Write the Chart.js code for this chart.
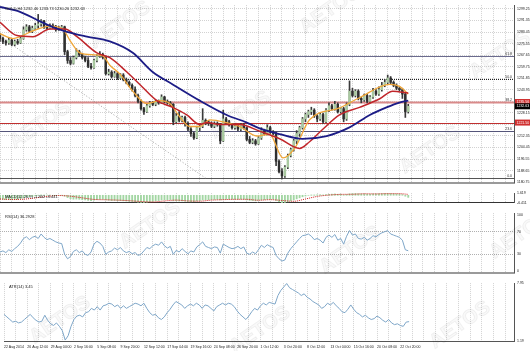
<!DOCTYPE html>
<html>
<head>
<meta charset="utf-8">
<script src="https://cdn.jsdelivr.net/npm/chart.js@4.4.0/dist/chart.umd.min.js"></script>
<style>
    html, body { margin: 0; padding: 0; background: #fff; }
    #wrap { position: relative; width: 530px; height: 351px; overflow: hidden; background: #fff; }
    .pane { position: absolute; left: 0; width: 530px; }
</style>
</head>
<body>
<div id="wrap">
    <div class="pane" style="top:0"><canvas id="mainChart" width="530" height="188"></canvas></div>
    <div class="pane" style="top:188px"><canvas id="macdChart" width="530" height="20"></canvas></div>
    <div class="pane" style="top:208px"><canvas id="rsiChart" width="530" height="70"></canvas></div>
    <div class="pane" style="top:278px"><canvas id="atrChart" width="530" height="73"></canvas></div>
</div>
<script>
// Time axis labels, one every 8 candles (each candle here = 2 H4 bars)
const timeLabels = ['22 Aug 2014', '26 Aug 12:00', '29 Aug 04:00', '2 Sep 16:00', '5 Sep 08:00', '9 Sep 20:00',
    '12 Sep 12:00', '17 Sep 04:00', '19 Sep 16:00', '24 Sep 08:00', '26 Sep 20:00', '1 Oct 12:00',
    '3 Oct 20:00', '8 Oct 12:00', '13 Oct 04:00', '15 Oct 16:00', '20 Oct 08:00', '22 Oct 20:00'];

// Price axis tick labels
const priceTicks = [1180.75, 1188.65, 1196.55, 1204.45, 1212.35, 1220.25, 1228.15, 1236.05,
    1243.95, 1251.85, 1259.75, 1267.65, 1275.55, 1283.45, 1291.35, 1299.25];

// candles: [open, high, low, close]
const ohlc = [
    [1281,1282.5,1277,1279],[1279,1280,1275.5,1277],[1277,1278,1274.5,1276],[1276,1279.5,1275,1278],
    [1278,1279,1274,1275],[1275,1278,1274,1277],[1277,1278.5,1275,1276],[1276,1280.5,1275.5,1279],
    [1279,1287,1278.5,1285],[1285,1288.5,1284,1287],[1287,1288,1283,1284],[1284,1287.5,1283,1286],
    [1286,1289.5,1285,1288],[1288,1295.5,1286,1289],[1289,1292,1287.5,1291],[1291,1291.5,1286,1287],
    [1287,1288,1285,1286],[1286,1289,1285.5,1288],[1288,1289,1286,1287],[1287,1288,1284,1285],
    [1285,1287.5,1284.5,1286],[1286,1288,1285.5,1287],[1287,1287.5,1268,1270],[1270,1271,1262,1264],
    [1264,1266,1261,1262],[1262,1267,1261.5,1266],[1266,1272,1265,1270],[1270,1271,1267,1268],
    [1268,1269,1265,1266],[1266,1267,1263,1264],[1264,1266,1259,1260],[1260,1262,1258,1259],
    [1259,1265,1258.5,1264],[1264,1268,1263,1267],[1267,1270,1266,1268],[1268,1269,1265,1266],
    [1266,1266.5,1254,1255],[1255,1258,1254,1256],[1256,1257,1252,1253],[1253,1256.5,1252.5,1255],
    [1255,1256,1251,1252],[1252,1255,1251.5,1254],[1254,1255,1250,1251],[1251,1252,1248,1249],
    [1249,1250,1246,1247],[1247,1248,1243,1244],[1244,1246,1239,1240],[1240,1241,1235,1236],
    [1236,1237,1230,1231],[1231,1232,1227,1229],[1229,1234,1228.5,1233],[1233,1236,1232,1235],
    [1235,1236,1233,1234],[1234,1237,1233,1236],[1236,1237,1234,1235],[1235,1240.5,1234.5,1239],
    [1239,1239.5,1235,1236],[1236,1237,1234,1235],[1235,1236,1233,1234],[1234,1234.5,1220,1222],
    [1222,1228,1221,1226],[1226,1229,1222,1223],[1223,1226,1222,1225],[1225,1226,1219,1221],
    [1221,1222,1216,1217],[1217,1218,1212,1214],[1214,1215,1210,1211],[1211,1219,1210.5,1218],
    [1218,1220.5,1216,1219],[1219,1231,1218,1223],[1223,1224,1220,1222],[1222,1223,1219.5,1221],
    [1221,1222,1218,1219],[1219,1222,1218,1221],[1221,1222,1219,1220],[1220,1221,1207,1209],
    [1209,1230,1208.5,1224],[1224,1225,1221,1222],[1222,1223,1219,1220],[1220,1221,1217,1218],
    [1218,1220.5,1217,1219],[1219,1220,1216,1217],[1217,1221,1216,1220],[1220,1221,1217,1218],
    [1218,1218.5,1209,1210],[1210,1212,1207,1208],[1208,1210.5,1207,1209],[1209,1210,1206,1207],
    [1207,1212,1206.5,1211],[1211,1218,1210,1216],[1216,1217,1213,1214],[1214,1220,1213,1218],
    [1218,1219,1214,1215],[1215,1216,1213,1214],[1214,1215,1192,1195],[1195,1196,1187,1188],
    [1188,1190,1183,1185],[1185,1192,1184,1191],[1191,1200,1190,1199],[1199,1204,1198,1203],
    [1203,1210,1202,1209],[1209,1216,1207,1214],[1214,1219,1212,1218],[1218,1225,1217,1224],
    [1224,1228,1222,1227],[1227,1230,1225,1229],[1229,1232,1227,1230],[1230,1231,1225,1226],
    [1226,1227,1222,1224],[1224,1228,1223,1227],[1227,1228,1221,1222],[1222,1231,1221.5,1230],
    [1230,1235,1229,1233],[1233,1234,1230,1231],[1231,1236,1230,1234],[1234,1235,1228,1229],
    [1229,1232,1228,1231],[1231,1232,1222,1224],[1224,1235,1223,1234],[1234,1250,1233,1243],
    [1243,1245,1239,1240],[1240,1244,1239,1243],[1243,1244,1237,1238],[1238,1239,1235,1237],
    [1237,1241,1236,1240],[1240,1241,1235,1236],[1236,1240,1235,1239],[1239,1245,1238,1243],
    [1243,1244,1240,1241],[1241,1246,1240,1244],[1244,1249,1243,1247],[1247,1251,1246,1249],
    [1249,1254,1248,1252],[1252,1253,1248,1249],[1249,1250,1246,1247],[1247,1248,1244,1245],
    [1245,1246,1243,1244],[1244,1245,1238,1241],[1241,1241.5,1225,1229],[1229,1234,1228,1232.63]
];

// moving averages: [candle index, price]
const maFast = [[0,1282.3],[4.4,1279.0],[6.8,1280.3],[11.2,1284.2],[17,1287.5],[21.4,1285.5],[23.8,1277.7],
    [27.2,1269.2],[31.6,1267.9],[35,1267.2],[37.4,1260.7],[40.8,1254.8],[45.2,1243.0],[50,1234.5],
    [54.4,1236.5],[57.8,1234.5],[61.2,1225.4],[64.6,1218.8],[68,1218.8],[71.4,1223.4],[77.2,1221.5],
    [81.6,1218.8],[87.4,1212.3],[91.8,1213.5],[96.3,1197.3],[100.3,1203.8],[105.4,1223.4],
    [115.6,1231.5],[122.4,1238.5],[132.7,1247.6],[136,1246.3],[139,1241.0]];
const maMid = [[0,1290.1],[5.8,1281.0],[11.2,1280.3],[17,1285.5],[22.1,1285.5],[26.2,1280.3],[33,1269.2],
    [37.4,1265.9],[43.2,1256.1],[47.6,1247.6],[53.4,1236.5],[58.8,1231.9],[63.6,1226.7],[68,1220.2],
    [70.4,1221.5],[74.8,1220.2],[81.6,1220.2],[88.4,1215.6],[95.2,1210.4],[102,1203.8],[105.4,1208.4],
    [109.9,1216.9],[115.6,1226.7],[122.4,1231.9],[129.3,1237.8],[133.7,1243.0],[139,1241.7]];
const maSlow = [[0,1300.6],[6.8,1297.3],[13.6,1290.7],[18,1286.8],[22.8,1283.6],[29.6,1280.3],[37.4,1277.0],
    [45.2,1269.2],[52,1256.1],[58.8,1247.6],[68,1236.5],[77.2,1226.7],[84,1221.5],[88.4,1217.5],
    [95.2,1213.6],[103,1210.4],[111.2,1212.3],[119,1218.2],[125.9,1226.7],[131.6,1231.9],[136,1235.2],
    [139,1236.5]];
const trendLine = [[5,1273.5],[70,1183.5]];

// Fibonacci levels and other horizontal lines
const fibNames = ['61.8', '50.0', '38.2', '23.6', '0.0'];
const fibPrices = [1267.2, 1251.6, 1235.5, 1215.6, 1183.5];
const redLinePrice = 1221.5;
const boxPrices = [1235.56, 1232.63, 1221.50];

// MACD histogram + signal
const macdHist = [-3.5,-3.6,-3.8,-3.7,-3.9,-3.6,-3.5,-3.0,
    -2.2,-1.5,-1.2,-0.9,-0.6,0.1,0.3,0.2,
    0.1,0.2,0.0,-0.1,0.0,0.1,-0.8,-2.0,
    -3.0,-3.4,-3.3,-3.5,-3.8,-4.0,-4.4,-4.6,
    -4.2,-3.8,-3.5,-3.4,-4.0,-4.3,-4.6,-4.5,
    -4.7,-4.6,-4.8,-5.0,-5.2,-5.4,-5.6,-5.9,
    -6.2,-6.3,-6.0,-5.6,-5.3,-4.9,-4.6,-4.0,
    -3.9,-3.8,-3.7,-4.5,-4.8,-5.0,-4.9,-5.1,
    -5.4,-5.6,-5.5,-5.0,-4.6,-4.0,-3.9,-3.8,
    -3.8,-3.6,-3.5,-4.0,-3.6,-3.4,-3.3,-3.4,
    -3.4,-3.5,-3.3,-3.4,-4.0,-4.4,-4.6,-4.8,
    -4.3,-4.0,-3.8,-3.5,-3.4,-3.4,-4.5,-5.6,
    -6.4,-6.2,-5.6,-4.8,-4.0,-3.1,-2.2,-1.3,
    -0.6,0.0,0.3,0.3,0.4,0.5,0.3,0.6,
    0.9,1.0,1.2,0.9,0.9,0.4,0.7,1.3,
    1.5,1.6,1.4,1.2,1.2,1.0,1.0,1.2,
    1.3,1.4,1.5,1.6,1.6,1.5,1.4,1.2,
    1.0,0.6,-0.8,-1.8];
const macdSignal = [[0,-3.2],[4,-3.6],[8,-3.4],[12,-2.3],[16,-1.0],[20,-0.2],[24,-0.8],[28,-2.2],[32,-3.6],
    [36,-3.9],[40,-4.2],[44,-4.7],[48,-5.4],[52,-5.8],[56,-4.9],[60,-4.2],[64,-4.9],[68,-5.1],[72,-4.2],
    [76,-3.8],[80,-3.5],[84,-3.5],[88,-4.3],[92,-3.8],[96,-4.5],[100,-5.2],[104,-3.2],[108,-1.0],
    [112,0.2],[116,0.8],[120,0.9],[124,1.3],[128,1.2],[132,1.4],[136,1.4],[139,0.8]];
const macdTicks = [-6.411, 0, 1.619];

const rsiVals = [34,36,33,38,35,40,44,50,
    58,61,56,60,62,58,66,60,
    56,58,55,52,50,49,30,22,
    26,35,38,33,36,30,28,34,
    48,53,50,44,30,34,36,41,
    38,42,36,33,35,31,33,28,
    30,36,42,40,45,48,46,52,
    45,41,44,30,37,34,40,35,
    31,36,34,43,47,52,44,42,
    40,43,42,32,48,45,42,40,
    41,44,40,43,32,30,34,31,
    38,46,42,47,44,42,28,22,
    18,20,32,40,46,52,58,63,
    64,66,62,56,58,55,50,60,
    64,60,65,55,58,48,62,72,
    64,66,58,57,60,55,58,63,
    61,65,68,70,72,66,64,62,
    60,55,38,36.29];
const rsiTicks = [0, 30, 70, 100];

const atrVals = [4.3,4.0,3.7,3.4,3.5,3.3,3.4,3.7,
    4.0,4.3,3.9,3.6,3.4,3.5,4.2,3.6,
    3.2,3.0,3.3,2.9,2.4,1.3,1.8,2.9,
    3.7,4.1,4.2,4.0,4.5,4.6,5.0,4.8,
    5.2,4.8,5.3,5.4,5.6,5.5,5.2,5.4,
    5.0,5.3,5.0,5.2,5.4,5.6,5.5,5.3,
    5.6,5.0,4.5,4.2,4.3,3.9,3.7,4.0,
    4.5,4.9,5.4,5.8,5.6,5.4,5.0,5.3,
    5.5,5.3,5.6,5.4,5.0,5.4,5.3,5.0,
    4.7,5.2,5.4,5.6,5.4,5.6,5.5,5.2,
    4.7,4.3,4.0,3.7,4.1,4.6,5.0,4.8,
    5.3,5.6,5.4,5.7,5.6,5.5,6.5,7.1,
    7.5,7.9,7.4,7.2,7.0,6.8,6.5,6.7,
    6.3,6.1,5.8,5.6,5.4,5.0,5.2,5.6,
    5.4,5.7,5.3,5.0,4.6,4.5,4.9,5.4,
    4.9,4.5,4.3,4.0,4.2,3.9,3.7,3.8,
    4.1,3.9,3.6,3.4,3.7,3.3,3.1,3.2,
    3.0,2.9,3.4,3.45];
const atrTicks = [1.19, 7.95];

const FONT = 'Liberation Sans';
const X_MAX = 175;
const gridIdx = [];
for (let v = 0; v <= 172; v += 4) gridIdx.push(v);

// faint broker watermark, tiled over the whole page (page coords)
const wmSpots = [[120, 25], [330, 10], [500, 55], [40, 125], [240, 115], [430, 150], [150, 225],
    [350, 250], [520, 235], [60, 320], [260, 330], [460, 325]];

const watermark = {
    id: 'watermark',
    beforeDatasetsDraw(chart, args, o) {
        const ctx = chart.ctx;
        ctx.save();
        ctx.font = 'bold 20px "' + FONT + '"';
        ctx.textAlign = 'center';
        ctx.textBaseline = 'middle';
        ctx.strokeStyle = 'rgba(0,0,0,0.06)';
        ctx.fillStyle = 'rgba(0,0,0,0.025)';
        ctx.lineWidth = 1;
        wmSpots.forEach(p => {
            ctx.save();
            ctx.translate(p[0], p[1] - o.top);
            ctx.rotate(-0.6);
            ctx.fillText('AETOS', 0, 0);
            ctx.strokeText('AETOS', 0, 0);
            ctx.restore();
        });
        ctx.restore();
    }
};

// horizontal lines, level texts, price boxes, panel titles
const paneDeco = {
    id: 'paneDeco',
    beforeDatasetsDraw(chart, args, o) {
        const {ctx, chartArea: a} = chart;
        const y = chart.scales.y;
        (o.lines || []).forEach(l => {
            const py = Math.round(y.getPixelForValue(l.value)) + 0.5;
            ctx.save();
            ctx.strokeStyle = l.color;
            ctx.lineWidth = l.width;
            ctx.setLineDash(l.dash ? [1, 1] : []);
            ctx.beginPath();
            ctx.moveTo(a.left, py);
            ctx.lineTo(a.right, py);
            ctx.stroke();
            if (l.text) {
                ctx.fillStyle = '#333';
                ctx.font = '3.5px "' + FONT + '"';
                ctx.textAlign = 'right';
                ctx.textBaseline = 'bottom';
                ctx.fillText(l.text, a.right - 2, py - 1);
            }
            ctx.restore();
        });
    },
    afterDraw(chart, args, o) {
        const {ctx, chartArea: a} = chart;
        const y = chart.scales.y;
        ctx.save();
        ctx.font = '4px "' + FONT + '"';
        if (o.title) {
            ctx.fillStyle = '#222';
            ctx.textAlign = 'left';
            ctx.textBaseline = 'top';
            ctx.fillText(o.title, a.left + 5, a.top + 2);
        }
        (o.boxes || []).forEach(b => {
            const py = y.getPixelForValue(b.value);
            ctx.fillStyle = b.bg;
            ctx.fillRect(a.right + 1, py - 3, 15, 6);
            ctx.fillStyle = '#fff';
            ctx.font = '3.5px "' + FONT + '"';
            ctx.textAlign = 'left';
            ctx.textBaseline = 'middle';
            ctx.fillText(b.text, a.right + 2.5, py);
        });
        ctx.restore();
    }
};

function timeAxis(showLabels, borderColor, borderWidth, h) {
    return {
        type: 'linear', min: 0, max: X_MAX, offset: false,
        afterBuildTicks: s => { s.ticks = gridIdx.map(v => ({value: v})); },
        afterFit: s => { s.height = h; },
        grid: {color: '#d2d2d2', lineWidth: 1, drawTicks: false, offset: false},
        border: {color: borderColor, width: borderWidth, dash: [1, 1]},
        ticks: {
            display: showLabels, autoSkip: false, maxRotation: 0, align: 'start', padding: 4,
            color: '#222', font: {size: 3.5, family: FONT},
            callback: v => (v % 8 === 0 && timeLabels[v / 8]) ? timeLabels[v / 8] : ''
        }
    };
}

function valueAxis(min, max, ticks, fmt, gridColor) {
    return {
        position: 'right', min: min, max: max,
        afterBuildTicks: s => { s.ticks = ticks.map(v => ({value: v})); },
        afterFit: s => { s.width = 16; },
        grid: {color: gridColor, drawTicks: false},
        border: {color: '#555', width: 1, dash: [1, 1]},
        ticks: {padding: 3, color: '#222', font: {size: 3.5, family: FONT}, callback: fmt}
    };
}

const baseOpts = {
    responsive: false,
    animation: false,
    layout: {padding: 0},
    plugins: {legend: {display: false}, tooltip: {enabled: false}}
};

const pts = arr => arr.map(p => ({x: p[0], y: p[1]}));
const series = arr => arr.map((v, i) => ({x: i, y: v}));

// Main price panel
new Chart(document.getElementById('mainChart'), {
    type: 'bar',
    data: {
        datasets: [
            {type: 'line', data: pts(trendLine), borderColor: '#8a8a8a', borderWidth: 0.8, borderDash: [1, 2],
                pointRadius: 0, order: 5},
            {data: ohlc.map((d, i) => ({x: i, y: [d[2], d[1]]})), backgroundColor: '#3a3a3a',
                barThickness: 1, grouped: false, order: 4},
            {data: ohlc.map((d, i) => ({x: i, y: [d[0], d[3]]})),
                backgroundColor: ohlc.map(d => d[3] >= d[0] ? '#a9c9a0' : '#2f2f2f'),
                barThickness: 1.8, grouped: false, order: 3},
            {type: 'line', data: pts(maSlow), borderColor: '#1c1c86', borderWidth: 1.8, pointRadius: 0,
                cubicInterpolationMode: 'monotone', order: 0},
            {type: 'line', data: pts(maMid), borderColor: '#c0262b', borderWidth: 1.5, pointRadius: 0,
                cubicInterpolationMode: 'monotone', order: 1},
            {type: 'line', data: pts(maFast), borderColor: '#f0a73a', borderWidth: 1.3, pointRadius: 0,
                cubicInterpolationMode: 'monotone', order: 2}
        ]
    },
    options: {
        ...baseOpts,
        scales: {
            x: timeAxis(false, '#9a9a9a', 2, 2),
            y: valueAxis(1180.22, 1301.87, priceTicks, v => v.toFixed(2), '#d2d2d2')
        },
        plugins: {
            ...baseOpts.plugins,
            watermark: {top: 0},
            paneDeco: {
                title: 'GOLD,H4 1232.46 1233.73 1230.26 1232.63',
                lines: [
                    {value: fibPrices[0], color: '#6b6b8e', width: 1, text: fibNames[0]},
                    {value: fibPrices[1], color: '#222', width: 1, dash: true, text: fibNames[1]},
                    {value: fibPrices[2], color: '#d98a8a', width: 2, text: fibNames[2]},
                    {value: redLinePrice, color: '#c03030', width: 1},
                    {value: fibPrices[3], color: '#55557a', width: 1, text: fibNames[3]},
                    {value: fibPrices[4], color: '#555', width: 1, text: fibNames[4]}
                ],
                boxes: [
                    {value: boxPrices[0], text: boxPrices[0].toFixed(2), bg: '#d03030'},
                    {value: boxPrices[1], text: boxPrices[1].toFixed(2), bg: '#000'},
                    {value: boxPrices[2], text: boxPrices[2].toFixed(2), bg: '#d03030'}
                ]
            }
        }
    },
    plugins: [watermark, paneDeco]
});

// MACD panel
new Chart(document.getElementById('macdChart'), {
    type: 'bar',
    data: {
        datasets: [
            {data: series(macdHist), backgroundColor: '#a3d6a3', barThickness: 1.2, grouped: false, order: 1},
            {type: 'line', data: pts(macdSignal), borderColor: '#d01f1f', borderWidth: 1, borderDash: [1, 1],
                pointRadius: 0, cubicInterpolationMode: 'monotone', order: 0}
        ]
    },
    options: {
        ...baseOpts,
        scales: {
            x: timeAxis(false, '#333', 1, 1),
            y: valueAxis(-6.6, 1.9, macdTicks, v => v === 0 ? '0.00' : v.toFixed(3), 'rgba(0,0,0,0)')
        },
        plugins: {...baseOpts.plugins, watermark: {top: 188}, paneDeco: {title: 'MACD(12,26,9) -1.802 -3.441'}}
    },
    plugins: [watermark, paneDeco]
});

// RSI panel
new Chart(document.getElementById('rsiChart'), {
    type: 'line',
    data: {datasets: [{data: series(rsiVals), borderColor: '#7ea6c8', borderWidth: 1, pointRadius: 0, tension: 0}]},
    options: {
        ...baseOpts,
        scales: {
            x: timeAxis(false, '#9a9a9a', 2, 2),
            y: valueAxis(-3, 103, rsiTicks, v => String(v),
                c => (c.tick && (c.tick.value === 30 || c.tick.value === 70)) ? '#b0b0b0' : 'rgba(0,0,0,0)')
        },
        plugins: {...baseOpts.plugins, watermark: {top: 208}, paneDeco: {title: 'RSI(14) 36.2928'}}
    },
    plugins: [watermark, paneDeco]
});

// ATR panel
new Chart(document.getElementById('atrChart'), {
    type: 'line',
    data: {datasets: [{data: series(atrVals), borderColor: '#7ea6c8', borderWidth: 1, pointRadius: 0, tension: 0}]},
    options: {
        ...baseOpts,
        scales: {
            x: timeAxis(true, '#555', 1, 10),
            y: valueAxis(1.19, 7.95, atrTicks, v => v.toFixed(2), 'rgba(0,0,0,0)')
        },
        plugins: {...baseOpts.plugins, watermark: {top: 278}, paneDeco: {title: 'ATR(14) 3.45'}}
    },
    plugins: [watermark, paneDeco]
});
</script>
</body>
</html>
